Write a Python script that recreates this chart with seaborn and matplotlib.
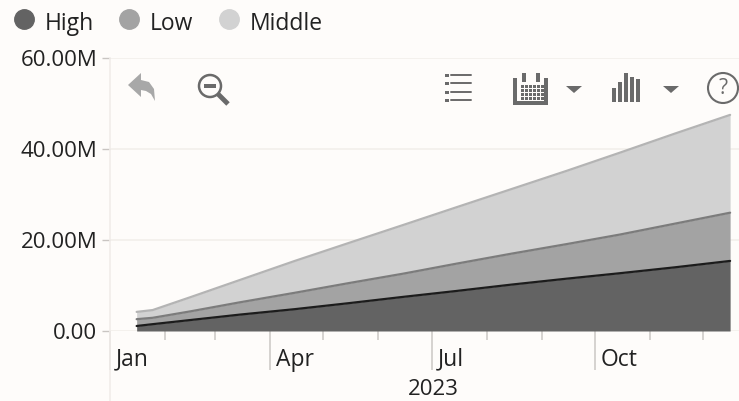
import pandas as pd
import numpy as np
import matplotlib.pyplot as plt
import matplotlib.dates as mdates
from matplotlib.lines import Line2D
from matplotlib.patches import Circle, Polygon, Rectangle
from matplotlib.transforms import ScaledTranslation
import seaborn as sns

# values, in millions
dates = ['2023-01-16', '2023-01-25', '2023-02-15', '2023-03-15', '2023-04-15', '2023-05-15',
         '2023-06-15', '2023-07-15', '2023-08-15', '2023-09-15', '2023-10-15', '2023-11-15', '2023-12-16']
high = [1.1, 1.5, 2.4, 3.6, 4.8, 6.1, 7.5, 8.8, 10.2, 11.5, 12.7, 14.0, 15.4]
low = [1.5, 1.4, 1.9, 2.7, 3.6, 4.4, 5.1, 6.0, 6.8, 7.6, 8.5, 9.6, 10.6]
middle = [1.6, 1.7, 3.1, 4.9, 7.0, 8.8, 10.7, 12.4, 14.2, 16.1, 18.0, 19.8, 21.5]

names = ['High', 'Low', 'Middle']
colors = ['#636363', '#a3a3a3', '#d2d2d2']
edge_colors = ['#1c1c1c', '#7c7c7c', '#b4b4b4']
month_ticks = ['2023-01-01', '2023-04-01', '2023-07-01', '2023-10-01']
month_labels = ['Jan', 'Apr', 'Jul', 'Oct']
minor_ticks = ['2023-02-01', '2023-03-01', '2023-05-01', '2023-06-01',
               '2023-08-01', '2023-09-01', '2023-11-01', '2023-12-01']
y_ticks = [0, 20, 40, 60]
y_labels = ['0.00', '20.00M', '40.00M', '60.00M']

bg = '#fefcfa'
text_color = '#222222'
sns.set_theme(style="white", rc={'figure.facecolor': bg, 'axes.facecolor': bg})
plt.rcParams['font.family'] = ['Open Sans', 'DejaVu Sans']

df = pd.DataFrame({'date': pd.to_datetime(dates), 'High': high, 'Low': low, 'Middle': middle})
edges = df.melt(id_vars='date', value_vars=names, var_name='level', value_name='value')
edges['top'] = edges.groupby('date')['value'].cumsum()

fig = plt.figure(figsize=(7.39, 4.01), dpi=100)
ax = fig.add_axes([110 / 739, 1 - 331 / 401, 629 / 739, 273 / 401])

ax.stackplot(df['date'], df['High'], df['Low'], df['Middle'], colors=colors, linewidth=0)
sns.lineplot(data=edges, x='date', y='top', hue='level', hue_order=names, palette=edge_colors,
             linewidth=1.6, legend=False, ax=ax)

ax.set_xlim(pd.Timestamp('2023-01-01'), pd.Timestamp('2023-12-21'))
ax.set_ylim(0, 60)
ax.set_yticks(y_ticks)
ax.set_yticklabels(y_labels, fontsize=16, color=text_color)
ax.tick_params(axis='y', length=6, width=1, color='#c9c5c2', pad=3, left=True)
ax.grid(axis='y', color='#f3efeb', linewidth=1.2)
ax.set_axisbelow(True)

ax.set_xticks(mdates.date2num(pd.to_datetime(month_ticks)))
ax.set_xticks(mdates.date2num(pd.to_datetime(minor_ticks)), minor=True)
ax.set_xticklabels(month_labels, fontsize=16.5, color=text_color, ha='left')
ax.tick_params(axis='x', which='major', length=28, width=1.2, color='#cfcbc8', pad=-16, bottom=True)
ax.tick_params(axis='x', which='minor', length=6.5, width=1.2, color='#cfcbc8', bottom=True)
shift = ScaledTranslation(6 / 100, 0, fig.dpi_scale_trans)
for lbl in ax.get_xticklabels():
    lbl.set_transform(lbl.get_transform() + shift)
ax.set_xlabel('2023', fontsize=16, color=text_color)
ax.xaxis.set_label_coords((433 - 110) / 629, -(379 - 331) / 273, transform=ax.transAxes)
ax.xaxis.label.set_va('top')
ax.set_ylabel('')
sns.despine(ax=ax, top=True, right=True, bottom=True, left=True)

handles = [Line2D([], [], marker='o', linestyle='', color=c, markersize=14) for c in colors]
leg = ax.legend(handles, names, ncol=3, frameon=False, fontsize=16.5, loc='lower left', labelcolor=text_color,
                bbox_to_anchor=(-109 / 629, 1.075), borderaxespad=0, borderpad=0.2, handletextpad=0.1,
                columnspacing=0.75, handlelength=1.6)
for t in leg.get_texts():
    t.set_y(-3)

# overlay in pixel coordinates for the axis line and the toolbar icons
ov = fig.add_axes([0, 0, 1, 1], facecolor='none')
ov.set_xlim(0, 739)
ov.set_ylim(401, 0)
ov.axis('off')
ov.plot([110, 110], [58, 401], color='#f1edea', lw=1.2)

dark = '#6a6a6a'
# back arrow
ov.add_patch(Polygon([[128, 85], [141, 73], [141, 80], [149, 82], [154, 89], [155, 101], [151, 94],
                      [146, 91], [141, 90], [141, 97]], closed=True, color='#a8a8a8', lw=0))
# zoom out
ov.add_patch(Circle((210, 86), 11, fill=False, ec=dark, lw=1.8))
ov.add_patch(Rectangle((204, 84), 12, 4, color=dark, lw=0))
ov.plot([218, 228], [94, 104], color=dark, lw=3.5, solid_capstyle='butt')
# list
for y in [75, 83, 92, 100]:
    ov.add_patch(Rectangle((445, y - 1.5), 3.5, 3, color=dark, lw=0))
    ov.plot([451, 471], [y, y], color=dark, lw=1.4)
# calendar
ov.add_patch(Polygon([[513, 78], [517, 78], [517, 101], [544, 101], [544, 78], [548, 78], [548, 105], [513, 105]],
                     closed=True, color=dark, lw=0))
for x in [522, 536]:
    ov.add_patch(Rectangle((x, 73), 3.5, 9, color=dark, lw=0))
for x in range(521, 542, 4):
    for y in range(85, 99, 4):
        ov.add_patch(Rectangle((x, y), 2.8, 2.8, color=dark, lw=0))
# bars
bar_x = [612, 618, 624, 630, 636]
bar_top = [88, 82, 73, 77, 79]
for x, y in zip(bar_x, bar_top):
    ov.add_patch(Rectangle((x, y), 4.3, 102 - y, color=dark, lw=0))
# dropdown arrows
for x in [574, 671]:
    ov.add_patch(Polygon([[x - 8, 86], [x + 8, 86], [x, 93]], closed=True, color=dark, lw=0))
# help
ov.add_patch(Circle((723, 88), 15, fill=False, ec=dark, lw=1.5))
ov.text(723, 88, '?', ha='center', va='center', fontsize=15, color=dark)

plt.savefig('out.png', dpi=100, facecolor=bg)
plt.close()
